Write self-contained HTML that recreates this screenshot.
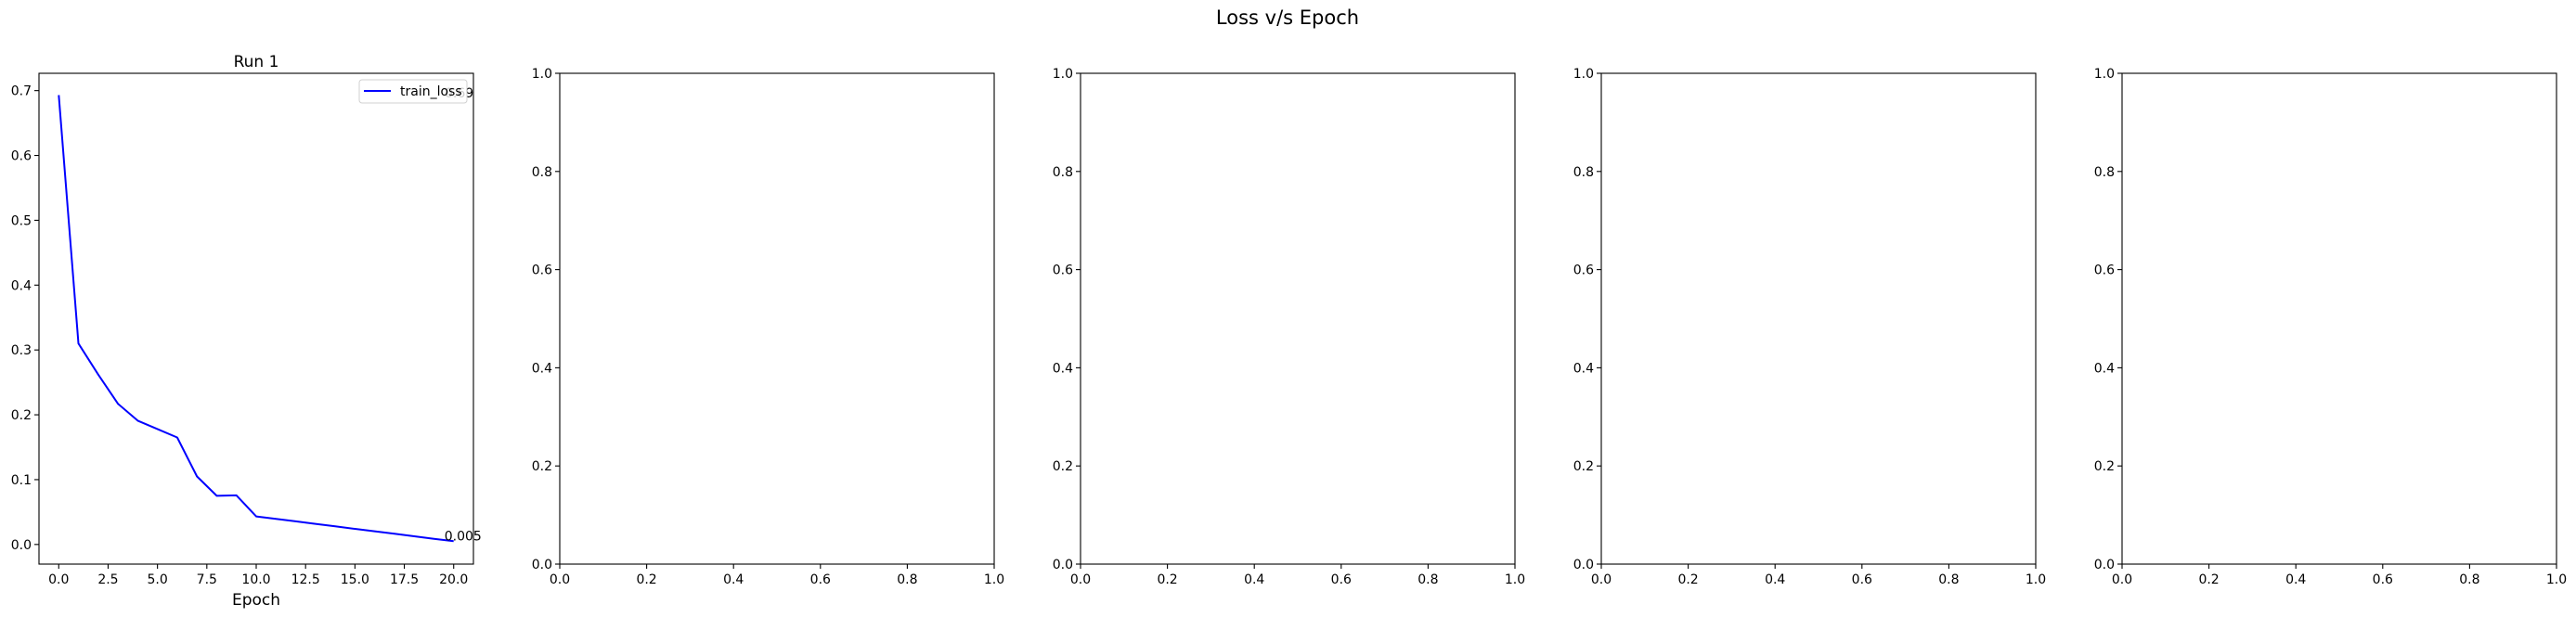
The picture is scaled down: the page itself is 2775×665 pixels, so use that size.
<!DOCTYPE html>
<html><head><meta charset="utf-8"><style>
html,body{margin:0;padding:0;background:#fff;}
svg{display:block;font-family:"DejaVu Sans","Liberation Sans",sans-serif;}
</style></head><body>
<svg id="fig" width="2775" height="665" viewBox="0 0 2775 665" xmlns="http://www.w3.org/2000/svg">
<text x="1387" y="26" font-size="21" text-anchor="middle" fill="#000">Loss v/s Epoch</text>
</svg>
<script>
const epochs = [0,1,2,3,4,5,6,7,8,9,10,11,12,13,14,15,16,17,18,19,20];
const trainLoss = [0.693,0.31,0.262,0.217,0.191,0.178,0.165,0.105,0.075,0.0757,0.0433,0.0395,0.0356,0.0318,0.028,0.0241,0.0203,0.0165,0.0127,0.0088,0.005];
const run1XTicks = [0,2.5,5,7.5,10,12.5,15,17.5,20];
const run1YTicks = [0,0.1,0.2,0.3,0.4,0.5,0.6,0.7];
const emptyTicks = [0,0.2,0.4,0.6,0.8,1.0];
const annFirst = "0.69";
const annLast = "0.005";

const NS = "http://www.w3.org/2000/svg";
const svg = document.getElementById('fig');
function mk(tag, attrs, parent){const e=document.createElementNS(NS,tag);for(const k in attrs)e.setAttribute(k,attrs[k]);(parent||svg).appendChild(e);return e;}

const axLefts = [42,603,1164,1725,2286];
const axW = 468, axTop = 79, axBot = 608;

function drawAxes(i, xmin, xmax, ymin, ymax, xt, yt, fmt){
  const L = axLefts[i], R = L+axW;
  const sx = v => L + (v-xmin)/(xmax-xmin)*axW;
  const sy = v => axBot - (v-ymin)/(ymax-ymin)*(axBot-axTop);
  const g = mk('g',{});
  
  
  xt.forEach(v=>{
    const x=sx(v);
    const t=mk('line',{x1:x,x2:x,y1:axBot,y2:axBot+5,stroke:'#000','stroke-width':1.1},g);
    
    
    const lb=mk('text',{x:x,y:axBot+21,'font-size':14,'text-anchor':'middle',fill:'#000'},g);
    lb.textContent=fmt(v);
    
    
  });
  yt.forEach(v=>{
    const y=sy(v);
    const t=mk('line',{x1:L-5,x2:L,y1:y,y2:y,stroke:'#000','stroke-width':1.1},g);
    
    
    const lb=mk('text',{x:L-8,y:y+5,'font-size':14,'text-anchor':'end',fill:'#000'},g);
    lb.textContent=v.toFixed(1);
    
    
  });
  const fr=mk('rect',{x:L,y:axTop,width:axW,height:axBot-axTop,fill:'none',stroke:'#000','stroke-width':1.1},g);
  
  
  return {sx,sy,g,L,R};
}

// Run 1
const a = drawAxes(0,-1,21,-0.0303,0.7267,run1XTicks,run1YTicks,v=>v.toFixed(1));
const pts = epochs.map((e,k)=>a.sx(e).toFixed(1)+','+a.sy(trainLoss[k]).toFixed(1)).join(' ');
const ln = mk('polyline',{points:pts,fill:'none',stroke:'#0000ff','stroke-width':2,'stroke-linejoin':'round'},a.g);


const t1 = mk('text',{x:(a.L+a.R)/2,y:72,'font-size':17,'text-anchor':'middle',fill:'#000'},a.g);
t1.textContent='Run 1';


const xl = mk('text',{x:(a.L+a.R)/2,y:652,'font-size':17,'text-anchor':'middle',fill:'#000'},a.g);
xl.textContent='Epoch';


const an2 = mk('text',{x:a.sx(epochs[epochs.length-1])-10,y:a.sy(trainLoss[trainLoss.length-1])-1,'font-size':14,fill:'#000'},a.g);
an2.textContent=annLast;


const an1 = mk('text',{x:479,y:105,'font-size':14,fill:'#000'},a.g);
an1.textContent=annFirst;


// legend
const lg = mk('g',{},a.g);


mk('rect',{x:387,y:86,width:116,height:25,rx:3,fill:'#fff','fill-opacity':0.8,stroke:'#d0d0d0','stroke-width':1},lg);
const le = mk('line',{x1:392,x2:421,y1:98,y2:98,stroke:'#0000ff','stroke-width':2},lg);


const lt = mk('text',{x:431,y:103,'font-size':14,fill:'#000'},lg);
lt.textContent='train_loss';



// empty subplots
for(let i=1;i<5;i++){
  drawAxes(i,0,1,0,1,emptyTicks,emptyTicks,v=>v.toFixed(1));
}
</script>
</body></html>
